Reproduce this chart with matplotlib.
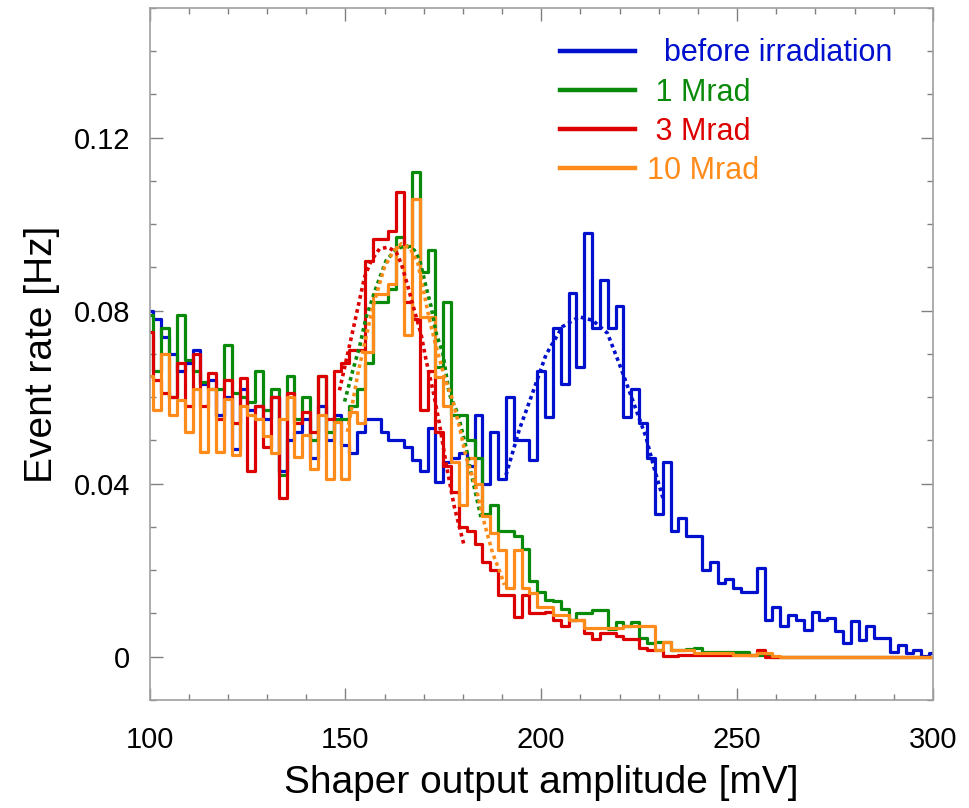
import matplotlib
matplotlib.use("Agg")
import matplotlib.pyplot as plt
import numpy as np
from matplotlib.ticker import MultipleLocator, FuncFormatter

plt.rcParams['font.family'] = ['Liberation Sans', 'DejaVu Sans']

# bin centres, 2 mV wide
amp = np.arange(100, 302, 2)

before = [0.080, 0.078, 0.074, 0.070, 0.066, 0.068, 0.071, 0.063, 0.064, 0.056,
          0.060, 0.048, 0.062, 0.057, 0.058, 0.055, 0.060, 0.043, 0.050, 0.052,
          0.055, 0.046, 0.058, 0.050, 0.056, 0.049, 0.047, 0.052, 0.055, 0.055,
          0.052, 0.050, 0.050, 0.0485, 0.0455, 0.043, 0.053, 0.0405, 0.045, 0.046,
          0.047, 0.044, 0.056, 0.040, 0.052, 0.041, 0.060, 0.050, 0.050, 0.0455,
          0.066, 0.0555, 0.076, 0.063, 0.084, 0.067, 0.098, 0.076, 0.087, 0.076,
          0.081, 0.0555, 0.062, 0.054, 0.046, 0.033, 0.045, 0.029, 0.032, 0.028,
          0.028, 0.020, 0.022, 0.017, 0.018, 0.016, 0.015, 0.015, 0.0205, 0.0085,
          0.0116, 0.007, 0.0097, 0.0085, 0.0062, 0.0104, 0.0085, 0.0089, 0.006, 0.0031,
          0.0082, 0.0039, 0.007, 0.0043, 0.0043, 0.0012, 0.0028, 0.0009, 0.0016, 0.0001,
          0.0009]

mrad1 = [0.079, 0.066, 0.076, 0.060, 0.079, 0.0685, 0.066, 0.0635, 0.062, 0.062,
         0.072, 0.061, 0.060, 0.059, 0.066, 0.057, 0.062, 0.042, 0.065, 0.055,
         0.060, 0.050, 0.065, 0.052, 0.055, 0.055, 0.058, 0.062, 0.068, 0.082,
         0.082, 0.085, 0.097, 0.095, 0.112, 0.089, 0.094, 0.067, 0.082, 0.056,
         0.056, 0.050, 0.046, 0.033, 0.035, 0.029, 0.029, 0.028, 0.025, 0.0174,
         0.015, 0.013, 0.0128, 0.011, 0.0085, 0.010, 0.010, 0.0108, 0.0108, 0.0065,
         0.008, 0.007, 0.008, 0.0043, 0.0032, 0.0035, 0.0035, 0.0016, 0.0016, 0.0018,
         0.002, 0.0012, 0.001, 0.001, 0.001, 0.0012, 0.0012, 0.0005, 0.0005, 0.0005,
         0, 0, 0, 0, 0, 0, 0, 0, 0, 0,
         0, 0, 0, 0, 0, 0, 0, 0, 0, 0,
         0]

mrad3 = [0.075, 0.064, 0.061, 0.060, 0.068, 0.058, 0.070, 0.058, 0.0655, 0.055,
         0.064, 0.054, 0.0645, 0.043, 0.058, 0.0485, 0.060, 0.0366, 0.061, 0.054,
         0.0566, 0.052, 0.065, 0.055, 0.066, 0.068, 0.071, 0.071, 0.0916, 0.0966,
         0.0966, 0.0985, 0.1074, 0.082, 0.078, 0.057, 0.066, 0.052, 0.044, 0.038,
         0.030, 0.029, 0.026, 0.022, 0.020, 0.0143, 0.0143, 0.0093, 0.0143, 0.010,
         0.010, 0.0104, 0.0085, 0.007, 0.0085, 0.0085, 0.0055, 0.004, 0.0055, 0.0055,
         0.0047, 0.004, 0.004, 0.002, 0.0016, 0.0016, 0.0002, 0.0002, 0.0005, 0.0005,
         0.0005, 0.0005, 0.0003, 0.0003, 0.0003, 0.0003, 0.0003, 0.0003, 0.0015, 0,
         0, 0, 0, 0, 0, 0, 0, 0, 0, 0,
         0, 0, 0, 0, 0, 0, 0, 0, 0, 0,
         0]

mrad10 = [0.065, 0.057, 0.070, 0.0558, 0.0593, 0.052, 0.062, 0.0474, 0.062, 0.0474,
          0.0597, 0.0466, 0.058, 0.056, 0.055, 0.051, 0.047, 0.055, 0.060, 0.0462,
          0.0512, 0.0435, 0.0558, 0.0412, 0.0543, 0.0412, 0.0566, 0.054, 0.0705, 0.0839,
          0.0839, 0.0862, 0.0947, 0.0743, 0.1059, 0.0786, 0.0786, 0.0647, 0.058, 0.045,
          0.035, 0.046, 0.040, 0.0325, 0.0287, 0.0247, 0.0158, 0.0247, 0.0158, 0.0147,
          0.0116, 0.0116, 0.0097, 0.0097, 0.0085, 0.0085, 0.0066, 0.0066, 0.0066, 0.0066,
          0.0066, 0.007, 0.007, 0.007, 0.007, 0.0016, 0.0035, 0.0016, 0.0016, 0.0016,
          0.0009, 0.0009, 0.0009, 0.0009, 0.0009, 0.0005, 0.0005, 0.0005, 0.0009, 0.0009,
          0.0002, 0, 0, 0, 0, 0, 0, 0, 0, 0,
          0, 0, 0, 0, 0, 0, 0, 0, 0, 0,
          0]

# fitted peaks (dotted)
fit_before_x = [191.0, 194.4, 197.8, 201.2, 205.4, 209.7, 213.1, 216.9, 219.9, 223.3, 226.7, 229.0, 231.3]
fit_before_y = [0.042, 0.0525, 0.061, 0.0698, 0.0763, 0.0786, 0.0778, 0.0748, 0.0678, 0.0594, 0.0509, 0.043, 0.036]
fit_1_x = [149.8, 151.9, 153.6, 155.3, 157.9, 160.4, 163.0, 165.5, 167.6, 169.0, 170.6, 171.9, 173.2, 174.9, 176.5, 178.7, 180.8, 182.1, 184.6]
fit_1_y = [0.059, 0.0662, 0.0716, 0.0785, 0.0855, 0.0916, 0.0943, 0.0951, 0.094, 0.0916, 0.0855, 0.0809, 0.0747, 0.0701, 0.0608, 0.0562, 0.0485, 0.0424, 0.0323]
fit_3_x = [148.5, 150.2, 151.9, 153.6, 154.9, 156.6, 158.7, 160.9, 163.0, 164.3, 166.0, 167.6, 169.3, 170.6, 172.5, 174.0, 175.7, 177.8, 180.4]
fit_3_y = [0.0616, 0.0685, 0.0754, 0.0824, 0.0878, 0.0916, 0.0943, 0.0947, 0.0935, 0.0908, 0.0855, 0.0801, 0.0747, 0.0686, 0.061, 0.0539, 0.0447, 0.0347, 0.0254]
fit_10_x = [150.5, 153.2, 157.0, 160.0, 162.1, 164.3, 166.5, 168.5, 171.5, 173.2, 175.3, 177.4, 179.1, 180.8, 183.3, 185.5, 187.6, 189.3, 190.6]
fit_10_y = [0.052, 0.0655, 0.0809, 0.0901, 0.0935, 0.0955, 0.0945, 0.091, 0.0778, 0.0716, 0.0647, 0.0593, 0.0532, 0.0462, 0.0393, 0.0308, 0.0239, 0.02, 0.0166]

labels = ["  before irradiation", " 1 Mrad", " 3 Mrad", "10 Mrad"]
colors = ["#0010cc", "#0a8a0a", "#dd0000", "#ff8c1a"]

fig = plt.figure(figsize=(9.69, 8.08), dpi=100)
ax = fig.add_axes([0.1543, 0.1337, 0.8085, 0.8564])

hists = [before, mrad1, mrad3, mrad10]
fits = [(fit_before_x, fit_before_y), (fit_1_x, fit_1_y), (fit_3_x, fit_3_y), (fit_10_x, fit_10_y)]

for vals, lab, col in zip(hists, labels, colors):
    ax.step(amp, vals, where='mid', color=col, lw=2.3, label=lab)
for (fx, fy), col in zip(fits, colors):
    ax.plot(fx, fy, color=col, lw=2.6, linestyle=(0, (1, 1.0)))

ax.set_xlim(100, 300)
ax.set_ylim(-0.01, 0.15)

ax.xaxis.set_major_locator(MultipleLocator(50))
ax.xaxis.set_minor_locator(MultipleLocator(10))
ax.yaxis.set_major_locator(MultipleLocator(0.04))
ax.yaxis.set_minor_locator(MultipleLocator(0.01))
ax.yaxis.set_major_formatter(FuncFormatter(lambda v, p: "0" if abs(v) < 1e-9 else f"{v:.2f}"))

for s in ax.spines.values():
    s.set_color("#a0a0a0")
    s.set_linewidth(1.2)
ax.tick_params(which='both', direction='in', top=True, right=True, color="#808080", width=1.0)
ax.tick_params(which='major', length=9, labelsize=21)
ax.tick_params(which='minor', length=4.5)
ax.tick_params(axis='x', which='major', pad=19)
ax.tick_params(axis='y', which='major', pad=14)

ax.set_xlabel("Shaper output amplitude [mV]", fontsize=28, labelpad=8)
ax.set_ylabel("Event rate [Hz]", fontsize=28, labelpad=10)

leg = ax.legend(loc='upper left', bbox_to_anchor=(0.524, 0.956), frameon=False, fontsize=22,
                borderaxespad=0, borderpad=0, handlelength=2.45, handletextpad=0.4,
                labelspacing=0.3, labelcolor='linecolor')
for h in leg.get_lines():
    h.set_linewidth(3.2)

fig.savefig("out.png", dpi=100)
